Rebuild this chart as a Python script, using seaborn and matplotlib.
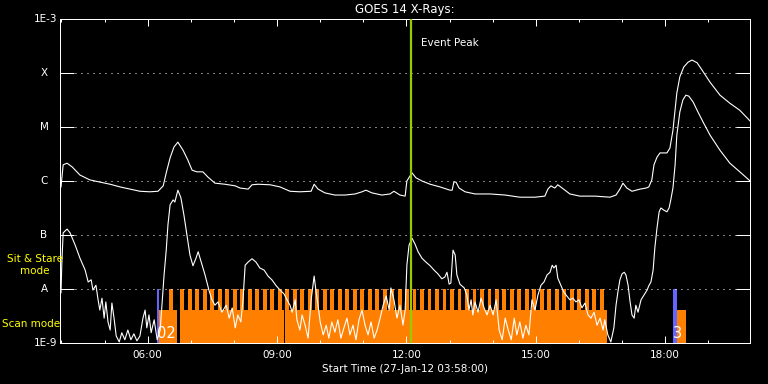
import numpy as np
import pandas as pd
import matplotlib
matplotlib.use("Agg")
import matplotlib.pyplot as plt
from matplotlib.ticker import FixedLocator, NullLocator, FuncFormatter
import seaborn as sns

# GOES 14 long channel (1-8 A): hour of day, log10 flux (W/m^2)
long_t = [3.99, 4.04, 4.13, 4.25, 4.43, 4.66, 4.89, 5.13, 5.36, 5.59, 5.82, 6.05, 6.24, 6.36, 6.43,
          6.52, 6.61, 6.70, 6.82, 6.93, 7.03, 7.14, 7.28, 7.40, 7.56, 7.79, 8.03, 8.14, 8.33, 8.42,
          8.56, 8.84, 9.07, 9.30, 9.53, 9.79, 9.86, 9.95, 10.11, 10.34, 10.58, 10.81, 10.97, 11.06,
          11.20, 11.43, 11.62, 11.71, 11.85, 11.97, 12.01, 12.08, 12.13, 12.22, 12.36, 12.55, 12.78,
          13.01, 13.06, 13.10, 13.15, 13.22, 13.36, 13.59, 13.94, 14.29, 14.63, 14.98, 15.21, 15.28,
          15.35, 15.44, 15.51, 15.61, 15.79, 16.02, 16.37, 16.72, 16.86, 16.95, 17.02, 17.11, 17.23,
          17.42, 17.56, 17.62, 17.69, 17.74, 17.81, 17.88, 18.04, 18.11, 18.18, 18.27, 18.34, 18.43,
          18.53, 18.62, 18.74, 18.85, 19.04, 19.27, 19.50, 19.73, 19.97]
long_log = [-6.11, -5.70, -5.67, -5.74, -5.89, -5.98, -6.02, -6.06, -6.11, -6.15, -6.19, -6.20, -6.19,
            -6.09, -5.85, -5.57, -5.37, -5.28, -5.43, -5.61, -5.80, -5.83, -5.83, -5.93, -6.04, -6.06,
            -6.09, -6.13, -6.15, -6.07, -6.06, -6.07, -6.11, -6.19, -6.20, -6.19, -6.06, -6.15, -6.22,
            -6.26, -6.26, -6.24, -6.20, -6.17, -6.22, -6.26, -6.24, -6.19, -6.26, -6.28, -6.00, -5.91,
            -5.85, -5.94, -6.00, -6.06, -6.11, -6.17, -6.17, -6.02, -6.02, -6.13, -6.20, -6.24, -6.24,
            -6.26, -6.30, -6.30, -6.28, -6.15, -6.09, -6.13, -6.07, -6.13, -6.24, -6.28, -6.28, -6.30,
            -6.26, -6.15, -6.04, -6.13, -6.19, -6.15, -6.13, -6.11, -5.98, -5.70, -5.56, -5.48, -5.48,
            -5.39, -5.06, -4.37, -4.07, -3.89, -3.80, -3.76, -3.81, -3.94, -4.17, -4.41, -4.56, -4.69,
            -4.89]

# GOES 14 short channel (0.5-4 A)
short_t = [3.99, 4.01, 4.04, 4.08, 4.13, 4.20, 4.32, 4.43, 4.55, 4.62, 4.69, 4.73, 4.80, 4.85, 4.89,
           4.94, 4.99, 5.03, 5.08, 5.13, 5.17, 5.22, 5.27, 5.34, 5.40, 5.47, 5.54, 5.61, 5.68, 5.75,
           5.82, 5.89, 5.94, 5.98, 6.03, 6.08, 6.15, 6.22, 6.29, 6.33, 6.38, 6.43, 6.47, 6.52, 6.59,
           6.63, 6.70, 6.77, 6.84, 6.91, 6.98, 7.05, 7.12, 7.17, 7.24, 7.33, 7.42, 7.49, 7.56, 7.63,
           7.72, 7.82, 7.89, 7.96, 8.03, 8.09, 8.16, 8.21, 8.26, 8.33, 8.42, 8.51, 8.60, 8.70, 8.79,
           8.88, 8.98, 9.07, 9.16, 9.23, 9.30, 9.35, 9.42, 9.46, 9.53, 9.58, 9.65, 9.72, 9.79, 9.86,
           9.90, 9.95, 10.00, 10.07, 10.14, 10.20, 10.27, 10.34, 10.41, 10.48, 10.55, 10.62, 10.69,
           10.76, 10.83, 10.90, 10.97, 11.04, 11.11, 11.18, 11.25, 11.32, 11.39, 11.46, 11.53, 11.60,
           11.64, 11.71, 11.78, 11.85, 11.92, 11.97, 12.01, 12.06, 12.13, 12.20, 12.27, 12.36, 12.45,
           12.55, 12.64, 12.73, 12.82, 12.89, 12.94, 12.99, 13.03, 13.08, 13.13, 13.17, 13.24, 13.34,
           13.40, 13.45, 13.50, 13.54, 13.59, 13.66, 13.73, 13.80, 13.87, 13.94, 14.01, 14.08, 14.15,
           14.22, 14.29, 14.36, 14.43, 14.50, 14.56, 14.63, 14.70, 14.77, 14.84, 14.91, 14.98, 15.05,
           15.12, 15.19, 15.26, 15.33, 15.38, 15.42, 15.47, 15.51, 15.58, 15.65, 15.72, 15.79, 15.86,
           15.93, 16.00, 16.07, 16.14, 16.21, 16.28, 16.35, 16.42, 16.49, 16.56, 16.60, 16.67, 16.74,
           16.81, 16.86, 16.91, 16.95, 17.00, 17.05, 17.09, 17.14, 17.18, 17.23, 17.28, 17.32, 17.37,
           17.44, 17.51, 17.58, 17.62, 17.67, 17.72, 17.76, 17.81, 17.86, 17.90, 17.97, 18.04, 18.09,
           18.13, 18.18, 18.23, 18.27, 18.34, 18.41, 18.48, 18.55, 18.65, 18.74, 18.88, 19.04, 19.27,
           19.50, 19.73, 19.97]
short_log = [-8.07, -7.50, -6.96, -6.93, -6.89, -6.96, -7.19, -7.43, -7.65, -7.87, -7.83, -8.02, -7.93,
             -8.20, -8.39, -8.17, -8.54, -8.24, -8.61, -8.76, -8.26, -8.54, -8.87, -8.98, -8.81, -8.94,
             -8.76, -8.94, -8.83, -8.96, -8.87, -8.54, -8.39, -8.72, -8.48, -8.81, -8.57, -8.94, -8.76,
             -8.30, -7.74, -7.28, -6.81, -6.44, -6.35, -6.39, -6.17, -6.31, -6.63, -7.00, -7.37, -7.57,
             -7.43, -7.31, -7.50, -7.74, -8.02, -8.20, -8.30, -8.24, -8.43, -8.30, -8.54, -8.35, -8.72,
             -8.48, -8.61, -8.20, -7.56, -7.50, -7.44, -7.50, -7.61, -7.65, -7.76, -7.83, -7.94, -8.02,
             -8.09, -8.20, -8.30, -8.43, -8.20, -8.57, -8.76, -8.48, -8.67, -8.91, -8.20, -7.76, -8.02,
             -8.30, -8.61, -8.85, -8.67, -8.91, -8.61, -8.80, -8.57, -8.91, -8.72, -8.54, -8.85, -8.67,
             -8.94, -8.57, -8.39, -8.67, -8.85, -8.61, -8.91, -8.76, -8.54, -8.30, -8.13, -8.39, -7.98,
             -8.20, -8.54, -8.30, -8.67, -8.39, -7.56, -7.19, -7.06, -7.17, -7.31, -7.43, -7.50, -7.57,
             -7.65, -7.72, -7.81, -7.78, -7.69, -7.91, -7.89, -7.28, -7.37, -7.74, -7.91, -7.98, -8.11,
             -8.39, -8.20, -8.48, -8.24, -8.43, -8.17, -8.35, -8.48, -8.30, -8.48, -8.20, -8.76, -8.94,
             -8.54, -8.76, -8.94, -8.54, -8.85, -8.61, -8.91, -8.67, -8.85, -8.20, -8.39, -8.11, -7.93,
             -7.87, -7.74, -7.69, -7.56, -7.61, -7.56, -7.80, -7.93, -8.06, -8.13, -8.20, -8.17, -8.24,
             -8.20, -8.35, -8.26, -8.48, -8.54, -8.43, -8.67, -8.54, -8.76, -8.57, -8.85, -8.98, -8.72,
             -8.30, -8.02, -7.83, -7.72, -7.69, -7.74, -7.93, -8.20, -8.48, -8.54, -8.30, -8.43, -8.20,
             -8.11, -8.02, -7.94, -7.87, -7.65, -7.24, -6.87, -6.57, -6.50, -6.54, -6.57, -6.50, -6.35,
             -6.13, -5.70, -5.15, -4.72, -4.50, -4.41, -4.43, -4.54, -4.69, -4.91, -5.15, -5.43, -5.67,
             -5.83, -6.00]

class_levels = [1e-9, 1e-8, 1e-7, 1e-6, 1e-5, 1e-4, 1e-3]
class_labels = ['1E-9', 'A', 'B', 'C', 'M', 'X', '1E-3']

# observing modes (hour of day)
stare_start = [6.214, 18.190]
stare_end = [6.260, 18.283]
stare_ids = ['02', '3']
scan_start = [6.260, 6.747, 9.202, 18.283]
scan_end = [6.677, 9.156, 16.661, 18.491]
raster_start = [6.492, 6.758, 6.932, 7.106, 7.279, 7.453, 7.627, 7.800, 7.974, 8.148, 8.322, 8.495,
                8.669, 8.843, 9.016, 9.190, 9.364, 9.537, 9.711, 9.885, 10.059, 10.232, 10.406,
                10.580, 10.753, 10.927, 11.101, 11.274, 11.448, 11.622, 11.796, 11.969, 12.143,
                12.317, 12.490, 12.664, 12.838, 13.011, 13.185, 13.359, 13.533, 13.706, 13.880,
                14.054, 14.227, 14.401, 14.575, 14.748, 14.922, 15.096, 15.270, 15.443, 15.617,
                15.791, 15.964, 16.138, 16.312, 16.485]
raster_len = 0.09
scan_level = 4.1e-9
event_peak = 12.098
t_start, t_end = 3.9667, 19.9667

ORANGE = '#ff8000'
BLUE = '#6464ff'
GREEN = '#99cc00'
YELLOW = '#ffff00'

plt.rcParams['font.family'] = ['DejaVu Sans']

fig = plt.figure(figsize=(7.68, 3.84), dpi=100, facecolor='black')
ax = fig.add_axes([60 / 768, 41 / 384, 690 / 768, 324 / 384])
ax.set_facecolor('black')
ax.set_yscale('log')

bottom = class_levels[0]
# scan mode base blocks and raster teeth
ax.bar(scan_start, [scan_level - bottom] * len(scan_start),
       width=np.array(scan_end) - np.array(scan_start), bottom=bottom,
       align='edge', color=ORANGE, linewidth=0, zorder=1)
ax.bar(raster_start, [class_levels[1] - bottom] * len(raster_start), width=raster_len,
       bottom=bottom, align='edge', color=ORANGE, linewidth=0, zorder=1)
# sit & stare markers
ax.bar(stare_start, [class_levels[1] - bottom] * len(stare_start),
       width=np.array(stare_end) - np.array(stare_start), bottom=bottom,
       align='edge', color=BLUE, linewidth=0, zorder=2)
for t, s in zip(stare_start, stare_ids):
    ax.text(t, 1.5e-9, s, color='white', fontsize=10.5, ha='left', va='center', zorder=6)

long_df = pd.DataFrame({'t': long_t, 'flux': 10 ** np.array(long_log)})
short_df = pd.DataFrame({'t': short_t, 'flux': 10 ** np.array(short_log)})
sns.lineplot(data=long_df, x='t', y='flux', color='white', lw=0.8, estimator=None, sort=False, ax=ax, zorder=3)
sns.lineplot(data=short_df, x='t', y='flux', color='white', lw=0.8, estimator=None, sort=False, ax=ax, zorder=3)

ax.axvline(event_peak, color=GREEN, lw=1.6, zorder=5)
ax.text(0.523, 0.926, 'Event Peak', transform=ax.transAxes, color='white', fontsize=7.5,
        ha='left', va='center', zorder=6)

# dotted class lines
ax.hlines(class_levels[1:-1], 0.0217, 0.9797, transform=ax.get_yaxis_transform(),
          colors='white', lw=0.72, linestyles=(0, (1, 5)), zorder=2)

ax.set_xlim(t_start, t_end)
ax.set_ylim(class_levels[0], class_levels[-1])

ax.xaxis.set_major_locator(FixedLocator([6, 9, 12, 15, 18]))
ax.xaxis.set_minor_locator(FixedLocator(list(range(4, 20))))
ax.xaxis.set_major_formatter(FuncFormatter(lambda v, p: f'{int(round(v)):02d}:00'))
ax.yaxis.set_major_locator(FixedLocator(class_levels))
ax.yaxis.set_minor_locator(NullLocator())

ax.tick_params(axis='x', which='major', direction='in', length=5, width=0.72, colors='white',
               top=True, bottom=True, labelsize=7.5, pad=5)
ax.tick_params(axis='x', which='minor', direction='in', length=2.5, width=0.72, colors='white',
               top=True, bottom=True)
ax.tick_params(axis='y', which='major', direction='in', length=10, width=0.72, colors='white',
               left=True, right=True, labelleft=False)

for lvl, lab in zip(class_levels, class_labels):
    if lab.startswith('1E'):
        ax.text(-0.0043, lvl, lab, transform=ax.get_yaxis_transform(), color='white',
                fontsize=7.5, ha='right', va='center')
    else:
        ax.text(-0.0232, lvl, lab, transform=ax.get_yaxis_transform(), color='white',
                fontsize=7.5, ha='center', va='center')

for sp in ax.spines.values():
    sp.set_color('white')
    sp.set_linewidth(0.72)

ax.set_xlabel('Start Time (27-Jan-12 03:58:00)', color='white', fontsize=7.5, labelpad=3)
ax.set_ylabel('')
ax.set_title('GOES 14 X-Rays:', color='white', fontsize=8.5, pad=4)

fig.text(35 / 768, 1 - 265 / 384, 'Sit & Stare\nmode', color=YELLOW, fontsize=7.5,
         ha='center', va='center', linespacing=1.2)
fig.text(2 / 768, 1 - 324 / 384, 'Scan mode', color=YELLOW, fontsize=7.5, ha='left', va='center')

fig.savefig('out.png', dpi=100, facecolor='black')
